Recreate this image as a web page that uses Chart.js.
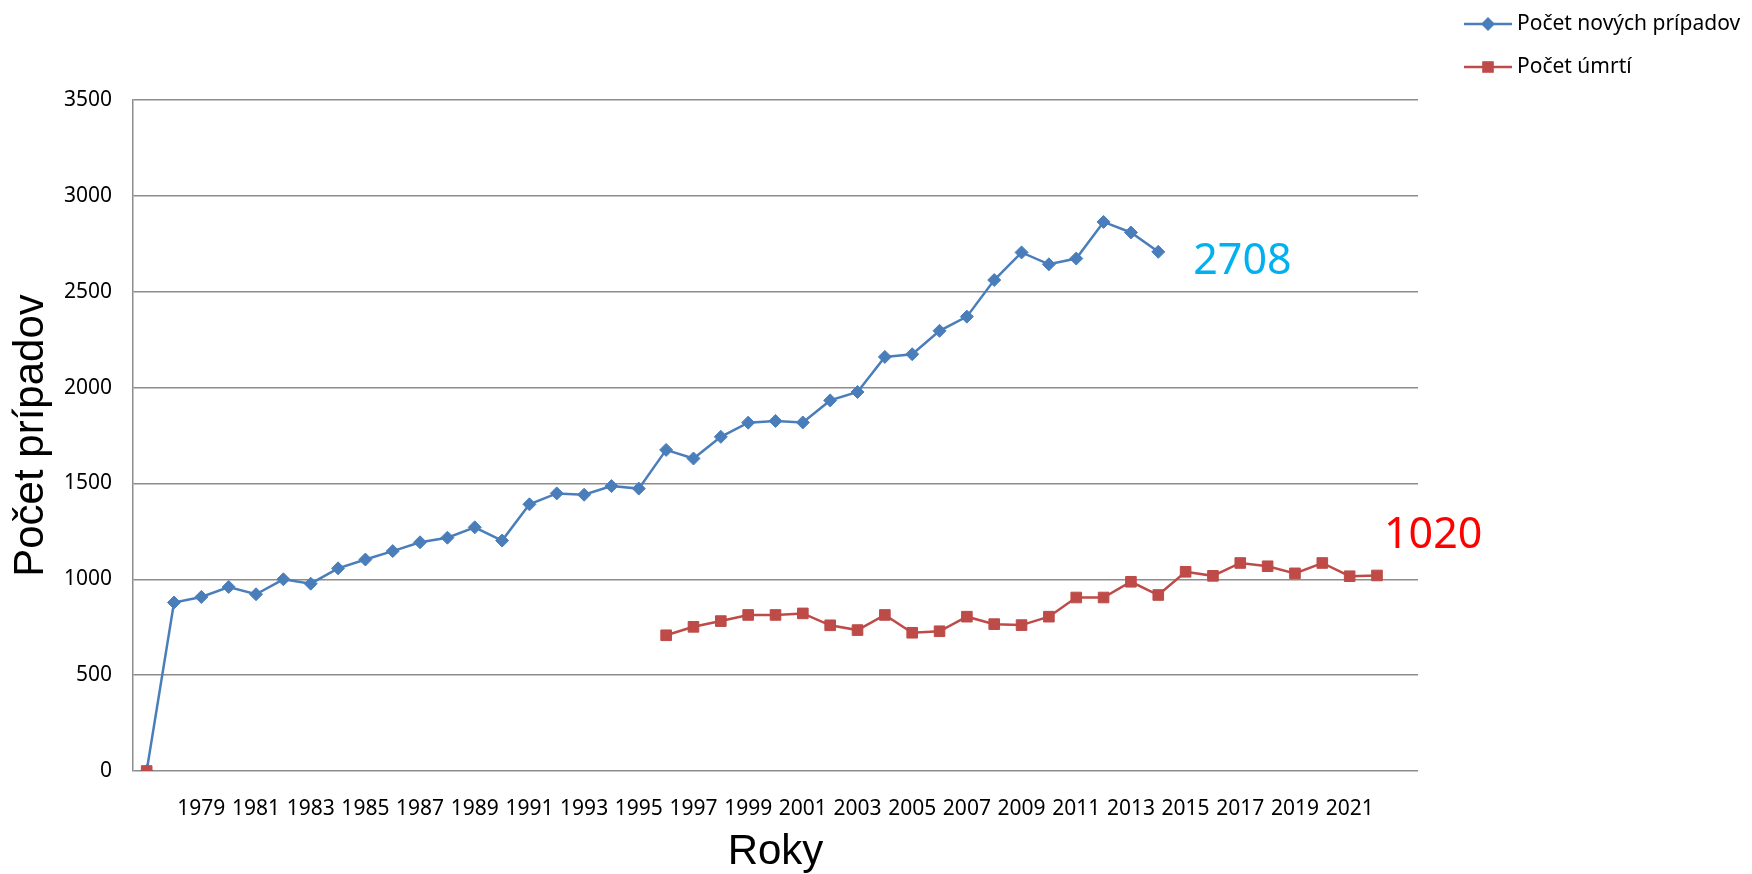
<!DOCTYPE html>
<html lang="sk">
<head>
<meta charset="UTF-8">
<title>Počet prípadov</title>
<script src="https://cdn.jsdelivr.net/npm/chart.js@4.4.1/dist/chart.umd.min.js"></script>
<style>
  html, body { margin: 0; padding: 0; background: #fff; }
  #wrap { width: 1752px; height: 874px; }
</style>
</head>
<body>
<div id="wrap"><canvas id="chartCanvas" width="1752" height="874"></canvas></div>
<script>
// roky (posledna kategoria je prazdna)
const years = [1977, 1978, 1979, 1980, 1981, 1982, 1983, 1984, 1985, 1986,
               1987, 1988, 1989, 1990, 1991, 1992, 1993, 1994, 1995, 1996,
               1997, 1998, 1999, 2000, 2001, 2002, 2003, 2004, 2005, 2006,
               2007, 2008, 2009, 2010, 2011, 2012, 2013, 2014, 2015, 2016,
               2017, 2018, 2019, 2020, 2021, 2022, 2023];

const xTickLabels = [1979, 1981, 1983, 1985, 1987, 1989, 1991, 1993, 1995, 1997, 1999,
                     2001, 2003, 2005, 2007, 2009, 2011, 2013, 2015, 2017, 2019, 2021];

const yTicks = [0, 500, 1000, 1500, 2000, 2500, 3000, 3500];

const newCases = [0, 879, 908, 960, 922, 1000, 977, 1057, 1103, 1147,
                  1193, 1217, 1271, 1202, 1391, 1448, 1441, 1486, 1473, 1675,
                  1630, 1743, 1817, 1826, 1818, 1933, 1977, 2160, 2174, 2296,
                  2370, 2561, 2705, 2643, 2673, 2864, 2809, 2708, null, null,
                  null, null, null, null, null, null, null];

const deaths = [0, null, null, null, null, null, null, null, null, null,
                null, null, null, null, null, null, null, null, null, 708,
                752, 782, 814, 814, 822, 760, 735, 814, 721, 729,
                805, 766, 761, 805, 905, 905, 987, 918, 1039, 1018,
                1085, 1068, 1031, 1085, 1016, 1020, null];

const seriesNames = ['Počet nových prípadov', 'Počet úmrtí'];
const blue = '#4a7ebb';
const red = '#be4b48';

function drawMarker(ctx, style, x, y, r, color) {
    ctx.save();
    ctx.fillStyle = color;
    ctx.beginPath();
    if (style === 'rectRot') {
        ctx.moveTo(x - r, y);
        ctx.lineTo(x, y - r);
        ctx.lineTo(x + r, y);
        ctx.lineTo(x, y + r);
    } else {
        const h = r * Math.SQRT1_2 + 0.5;
        ctx.rect(x - h, y - h, 2 * h, 2 * h);
    }
    ctx.closePath();
    ctx.fill();
    ctx.restore();
}

// legenda vpravo hore
const legendPlugin = {
    id: 'sideLegend',
    afterDraw(chart) {
        const ctx = chart.ctx;
        const rows = [24, 67];
        chart.data.datasets.forEach((ds, i) => {
            const y = rows[ds.legendIndex];
            ctx.save();
            ctx.strokeStyle = ds.borderColor;
            ctx.lineWidth = 2.5;
            ctx.beginPath();
            ctx.moveTo(1464, y);
            ctx.lineTo(1512, y);
            ctx.stroke();
            drawMarker(ctx, ds.pointStyle, 1488, y, ds.pointStyle === 'rectRot' ? 7 : 7.5, ds.borderColor);
            ctx.fillStyle = '#000';
            ctx.font = '21px "Noto Sans"';
            ctx.textAlign = 'left';
            ctx.textBaseline = 'middle';
            ctx.fillText(ds.label, 1517, y);
            ctx.restore();
        });
    }
};

// hodnoty pri poslednych bodoch
const lastValuePlugin = {
    id: 'lastValue',
    afterDatasetsDraw(chart) {
        const ctx = chart.ctx;
        const xs = chart.scales.x, ys = chart.scales.y;
        chart.data.datasets.forEach(ds => {
            let last = -1;
            ds.data.forEach((v, i) => { if (v !== null) last = i; });
            const px = xs.getPixelForValue(last);
            const py = ys.getPixelForValue(ds.data[last]);
            ctx.save();
            ctx.font = '43px "Noto Sans"';
            ctx.textAlign = 'left';
            ctx.textBaseline = 'middle';
            ctx.fillStyle = ds.valueColor;
            ctx.fillText(String(ds.data[last]), px + ds.valueDx, py + ds.valueDy);
            ctx.restore();
        });
    }
};

const ctx = document.getElementById('chartCanvas').getContext('2d');
new Chart(ctx, {
    type: 'line',
    data: {
        labels: years,
        datasets: [{
            label: seriesNames[0],
            data: newCases,
            borderColor: blue,
            backgroundColor: blue,
            borderWidth: 2.5,
            pointStyle: 'rectRot',
            pointRadius: 6.5,
            pointBorderWidth: 1,
            pointBackgroundColor: blue,
            pointBorderColor: blue,
            spanGaps: false,
            order: 1,
            legendIndex: 0,
            valueColor: '#00b0f0',
            valueDx: 35,
            valueDy: 10
        }, {
            label: seriesNames[1],
            data: deaths,
            borderColor: red,
            backgroundColor: red,
            borderWidth: 2.5,
            pointStyle: 'rect',
            pointRadius: 7.5,
            pointBorderWidth: 1,
            pointBackgroundColor: red,
            pointBorderColor: red,
            spanGaps: false,
            order: 0,
            legendIndex: 1,
            valueColor: '#ff0000',
            valueDx: 7,
            valueDy: -40
        }]
    },
    options: {
        responsive: false,
        animation: false,
        devicePixelRatio: 1,
        layout: { padding: { top: 100, right: 334, bottom: 0, left: 0 } },
        plugins: {
            legend: { display: false },
            tooltip: { enabled: false }
        },
        scales: {
            x: {
                offset: true,
                grid: { display: false },
                border: { display: false },
                ticks: {
                    autoSkip: false,
                    maxRotation: 0,
                    minRotation: 0,
                    padding: 17,
                    color: '#000',
                    font: { family: 'Noto Sans', size: 21 },
                    callback: function (value, index) {
                        const yr = years[index];
                        return xTickLabels.includes(yr) ? String(yr) : '';
                    }
                },
                title: {
                    display: true,
                    text: 'Roky',
                    color: '#000',
                    font: { family: 'Liberation Sans', size: 42, lineHeight: 1 },
                    padding: { top: 0, bottom: 1 }
                },
                afterFit: function (scale) { scale.height = 103; }
            },
            y: {
                min: yTicks[0],
                max: yTicks[yTicks.length - 1],
                afterBuildTicks: function (scale) {
                    scale.ticks = yTicks.map(v => ({ value: v }));
                },
                grid: { color: '#8c8c8c', lineWidth: 1.5, drawTicks: false },
                border: { display: true, color: '#8c8c8c', width: 1.5 },
                ticks: {
                    padding: 21,
                    color: '#000',
                    font: { family: 'Noto Sans', size: 21 },
                    callback: function (value) { return String(value); }
                },
                title: {
                    display: true,
                    text: 'Počet prípadov',
                    color: '#000',
                    font: { family: 'Liberation Sans', size: 42, lineHeight: 1 },
                    padding: { top: 10, bottom: 0 }
                },
                afterFit: function (scale) { scale.width = 133; }
            }
        }
    },
    plugins: [legendPlugin, lastValuePlugin]
});
</script>
</body>
</html>
